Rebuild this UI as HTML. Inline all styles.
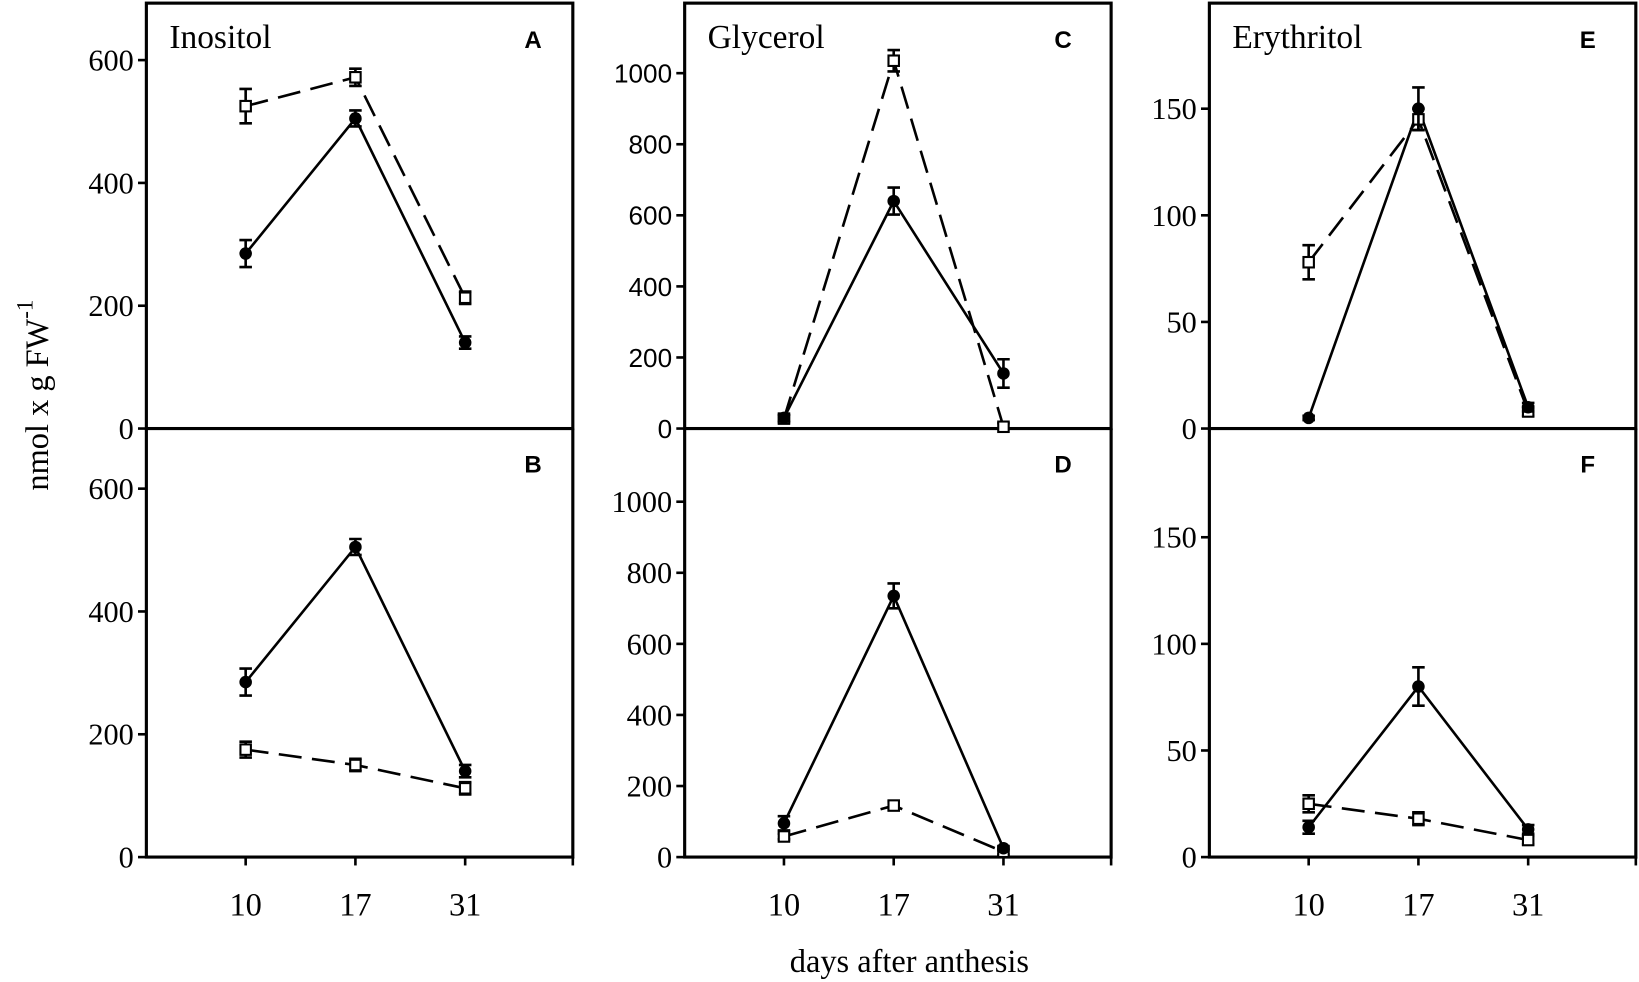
<!DOCTYPE html>
<html><head><meta charset="utf-8"><style>
html,body{margin:0;padding:0;background:#fff}
svg{display:block}
text{font-family:"Liberation Serif",serif;fill:#000}
.lt{font-family:"Liberation Sans",sans-serif;font-weight:bold;font-size:23px}
</style></head><body>
<svg id="fig" width="1639" height="982" viewBox="0 0 1568 939.5" xmlns="http://www.w3.org/2000/svg"></svg>
<script>
const categories = ["10","17","31"];
const panelNames = ["A","B","C","D","E","F"];
const titles = ["Inositol","","Glycerol","","Erythritol",""];
const filledA = [285,505,140], filledAErr = [22,13,10];
const openA = [525,572,213], openAErr = [28,14,10];
const filledB = [285,505,140], filledBErr = [22,13,10];
const openB = [175,150,112], openBErr = [13,10,10];
const filledC = [30,640,155], filledCErr = [8,38,40];
const openC = [28,1035,5], openCErr = [10,30,10];
const filledD = [95,735,25], filledDErr = [20,35,6];
const openD = [58,145,15], openDErr = [8,12,8];
const filledE = [5,150,10], filledEErr = [1,10,2];
const openE = [78,145,8], openEErr = [8,5,2];
const filledF = [14,80,13], filledFErr = [3,9,2];
const openF = [25,18,8], openFErr = [4,3,2];
const ticksInositol = [0,200,400,600];
const ticksGlycerol = [0,200,400,600,800,1000];
const ticksErythritol = [0,50,100,150];

const NS="http://www.w3.org/2000/svg";
const svg=document.getElementById('fig');
function mk(tag,attrs,parent){const e=document.createElementNS(NS,tag);for(const k in attrs)e.setAttribute(k,attrs[k]);(parent||svg).appendChild(e);return e;}

const cols=[{left:140,ticks:ticksInositol,scale:117.5/200,lx:38},{left:655,ticks:ticksGlycerol,scale:68/200,lx:46},{left:1157,ticks:ticksErythritol,scale:102/50,lx:46}];
const W=408;
const panels=[
 {c:0,top:true,f:filledA,fe:filledAErr,o:openA,oe:openAErr},
 {c:0,top:false,f:filledB,fe:filledBErr,o:openB,oe:openBErr},
 {c:1,top:true,f:filledC,fe:filledCErr,o:openC,oe:openCErr},
 {c:1,top:false,f:filledD,fe:filledDErr,o:openD,oe:openDErr},
 {c:2,top:true,f:filledE,fe:filledEErr,o:openE,oe:openEErr},
 {c:2,top:false,f:filledF,fe:filledFErr,o:openF,oe:openFErr}];

panels.forEach((p,pi)=>{
  const col=cols[p.c];const L=col.left,R=L+W;
  const base=p.top?410:820, topY=p.top?3:410;
  const g=mk('g',{});
  
  
  const xs=i=>L+95+i*105;
  const ys=v=>base-v*col.scale;
  if(p.top){const r=mk('rect',{x:L,y:topY,width:W,height:base-topY,fill:'none',stroke:'#000','stroke-width':3},g);
    }
  else{const r=mk('path',{d:`M${L} ${topY}V${base}H${R}V${topY}`,fill:'none',stroke:'#000','stroke-width':3},g);
    
    categories.forEach((c,i)=>{mk('line',{x1:xs(i),x2:xs(i),y1:base,y2:base+8,stroke:'#000','stroke-width':2.5},g);
      const t=mk('text',{x:xs(i),y:base+56,'text-anchor':'middle','font-size':31},g);t.textContent=c;
      });
    mk('line',{x1:R,x2:R,y1:base,y2:base+8,stroke:'#000','stroke-width':2.5},g);}
  const sans = (p.c===1 && p.top);
  col.ticks.forEach(v=>{const y=ys(v);
    mk('line',{x1:L-8,x2:L,y1:y,y2:y,stroke:'#000','stroke-width':2.5},g);
    const t=mk('text',{x:L-12,y:y+(sans?9:10),'text-anchor':'end','font-size':sans?25:29},g);t.textContent=v;
    if(sans) t.setAttribute('style','font-family:"Liberation Sans",sans-serif');
    });
  const lt=mk('text',{x:R-col.lx,y:topY+(p.top?43:42),'text-anchor':'middle',class:'lt'},g);lt.textContent=panelNames[pi];
  
  if(titles[pi]){const tt=mk('text',{x:L+22,y:topY+43,'font-size':32},g);tt.textContent=titles[pi];
    }
  const op=mk('polyline',{points:p.o.map((v,i)=>xs(i)+','+ys(v)).join(' '),fill:'none',stroke:'#000','stroke-width':2.5,'stroke-dasharray':'22 10'},g);
  
  const fp=mk('polyline',{points:p.f.map((v,i)=>xs(i)+','+ys(v)).join(' '),fill:'none',stroke:'#000','stroke-width':2.5},g);
  
  function err(v,e,i){const x=xs(i),y1=ys(v+e),y2=ys(Math.max(0,v-e));
    mk('path',{d:`M${x} ${y1}V${y2}M${x-6} ${y1}H${x+6}M${x-6} ${y2}H${x+6}`,stroke:'#000','stroke-width':2.5,fill:'none'},g);}
  p.o.forEach((v,i)=>{err(v,p.oe[i],i);const s=mk('rect',{x:xs(i)-5,y:ys(v)-5,width:10,height:10,fill:'#fff',stroke:'#000','stroke-width':2},g);
    });
  p.f.forEach((v,i)=>{err(v,p.fe[i],i);const c=mk('circle',{cx:xs(i),cy:ys(v),r:6,fill:'#000'},g);
    });
});
const yl=mk('text',{transform:'translate(46,378) rotate(-90)','text-anchor':'middle','font-size':31});


yl.innerHTML='nmol x g FW<tspan dy="-15" font-size="22">-1</tspan>';
const xl=mk('text',{x:870,y:930,'text-anchor':'middle','font-size':31});


xl.textContent='days after anthesis';
</script>
</body></html>
